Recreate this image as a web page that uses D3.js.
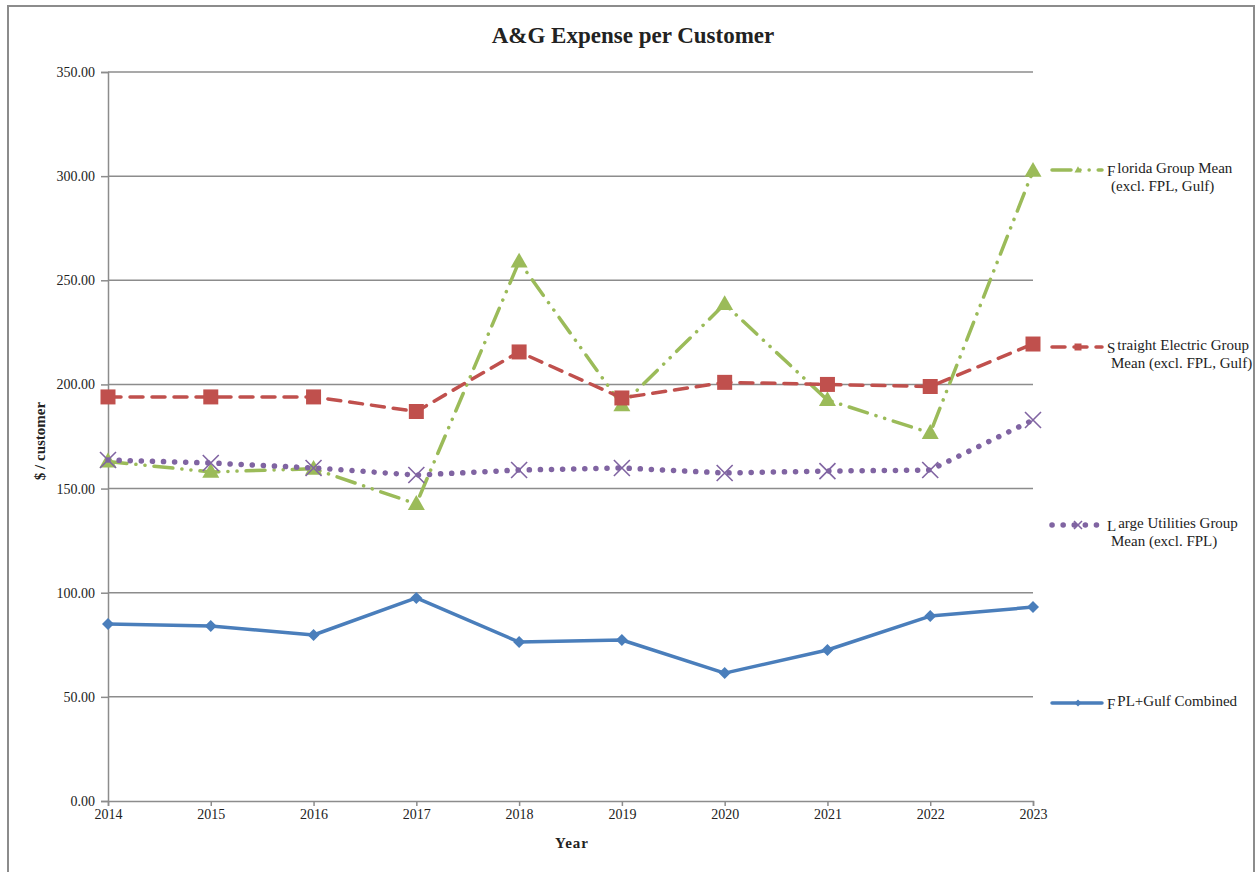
<!DOCTYPE html>
<html><head><meta charset="utf-8">
<script src="https://cdn.jsdelivr.net/npm/d3@7"></script>
<style>body{margin:0;background:#fff}svg{display:block}text{font-family:"Liberation Serif","Times New Roman",serif;fill:#222}</style>
</head><body>
<svg id="c" width="1257" height="872"></svg>
<script>
const years = [2014,2015,2016,2017,2018,2019,2020,2021,2022,2023];
const floridaMean = [163,158,159.5,142.6,259,190,238.6,192.5,176.7,302.5];
const straightElectric = [194,194,194,187,215.6,193.5,201,200,199,219.4];
const largeUtilities = [163.7,162.3,159.9,156.5,158.9,159.9,157.5,158.4,158.9,182.9];
const fplGulf = [85,84,79.7,97.5,76.3,77.3,61.4,72.5,88.8,93.1];
const yTicks = [0,50,100,150,200,250,300,350];

const svg = d3.select("#c");
svg.append("path").attr("d","M8,872 L8,6 L1254,6 L1254,872").attr("fill","none").attr("stroke","#8c8c8c").attr("stroke-width",2);

const x = d3.scaleLinear().domain([2014,2023]).range([108,1033]);
const y = d3.scaleLinear().domain([0,350]).range([801,72]);

svg.append("g").selectAll("line").data(yTicks.filter(d=>d>0)).join("line")
  .attr("x1",108).attr("x2",1033).attr("y1",d=>y(d)).attr("y2",d=>y(d))
  .attr("stroke","#8c8c8c").attr("stroke-width",1.5);

const yAxis = svg.append("g").attr("transform","translate(108,0)").attr("font-family",null)
  .call(d3.axisLeft(y).tickValues(yTicks).tickFormat(d3.format(".2f")).tickSize(7).tickPadding(6));
yAxis.attr("font-family","Liberation Serif").attr("font-size",14);
yAxis.select(".domain").attr("stroke","#8c8c8c").attr("stroke-width",1.5);
yAxis.selectAll(".tick line").attr("stroke","#8c8c8c").attr("stroke-width",1.5);
yAxis.selectAll("text").style("font-size","14px").attr("fill","#222");

const xAxis = svg.append("g").attr("transform","translate(0,801)")
  .call(d3.axisBottom(x).tickValues(years).tickFormat(d3.format("d")).tickSize(5).tickPadding(3));
xAxis.attr("font-family","Liberation Serif").attr("font-size",14);
xAxis.select(".domain").attr("stroke","#8c8c8c").attr("stroke-width",1.5);
xAxis.selectAll(".tick line").attr("stroke","#8c8c8c").attr("stroke-width",1.5);
xAxis.selectAll("text").style("font-size","14px").attr("fill","#222");

svg.append("text").attr("x",633).attr("y",43).attr("text-anchor","middle")
  .style("font-size","23px").style("font-weight","bold").text("A&G Expense per Customer");
svg.append("text").attr("x",572).attr("y",848).attr("text-anchor","middle")
  .style("font-size","15px").style("font-weight","bold").style("letter-spacing","1px").text("Year");
svg.append("text").attr("transform","translate(45,441) rotate(-90)").attr("text-anchor","middle")
  .style("font-size","15px").style("font-weight","bold").text("$ / customer");

const C = {green:"#9bbb59", red:"#c0504d", purple:"#8064a2", blue:"#4a7ebb"};
const line = d3.line().x((d,i)=>x(years[i])).y(d=>y(d));

function markerPath(type, s){
  if(type==="tri"){const h=s*0.87;return `M0,${-h*0.6}L${s/2},${h*0.4}L${-s/2},${h*0.4}Z`;}
  if(type==="sq"){return `M${-s/2},${-s/2}h${s}v${s}h${-s}Z`;}
  if(type==="dia"){return `M0,${-s/2}L${s/2},0L0,${s/2}L${-s/2},0Z`;}
  if(type==="x"){return `M${-s/2},${-s/2}L${s/2},${s/2}M${s/2},${-s/2}L${-s/2},${s/2}`;}
}
function drawMarkers(g, vals, type, color, s){
  g.selectAll("path.m").data(vals).join("path").attr("class","m")
    .attr("transform",(d,i)=>`translate(${x(years[i])},${y(d)})`)
    .attr("d",markerPath(type,s))
    .attr("fill", type==="x"?"none":color)
    .attr("stroke", color).attr("stroke-width", type==="x"?1.6:0);
}

const series = [
  {vals:floridaMean, color:C.green, dash:"19,9,0.1,9,0.1,9", w:3.5, cap:"round", mk:"tri", ms:17,
   lab:[["F","lorida Group Mean"],"(excl. FPL, Gulf)"], ly:170},
  {vals:straightElectric, color:C.red, dash:"13,9", w:3.5, cap:"round", mk:"sq", ms:15,
   lab:[["S","traight Electric Group"],"Mean (excl. FPL, Gulf)"], ly:347},
  {vals:largeUtilities, color:C.purple, dash:"0.1,11", w:5.5, cap:"round", mk:"x", ms:16,
   lab:[["L","arge Utilities Group"],"Mean (excl. FPL)"], ly:525},
  {vals:fplGulf, color:C.blue, dash:null, w:3.5, cap:"round", mk:"dia", ms:12,
   lab:[["F","PL+Gulf Combined"]], ly:703}
];

series.forEach(s=>{
  const g = svg.append("g");
  const p = g.append("path").datum(s.vals).attr("d",line).attr("fill","none")
    .attr("stroke",s.color).attr("stroke-width",s.w).attr("stroke-linecap",s.cap).attr("stroke-linejoin","round");
  if(s.dash) p.attr("stroke-dasharray",s.dash);
  drawMarkers(g, s.vals, s.mk, s.color, s.ms);
});

series.forEach(s=>{
  const g = svg.append("g");
  const lp = g.append("line").attr("x1",1052).attr("x2",1102).attr("y1",s.ly).attr("y2",s.ly)
    .attr("stroke",s.color).attr("stroke-width",s.w).attr("stroke-linecap",s.cap);
  if(s.dash) lp.attr("stroke-dasharray",s.dash);
  g.append("path").attr("transform",`translate(1078,${s.ly})`).attr("d",markerPath(s.mk,s.mk==="x"?8:7))
    .attr("fill",s.mk==="x"?"none":s.color).attr("stroke",s.color).attr("stroke-width",s.mk==="x"?1.6:0);
  const t = g.append("text").attr("x",1107).attr("y",s.ly+3).style("font-size","15px");
  t.append("tspan").attr("dy",3).text(s.lab[0][0]);
  t.append("tspan").attr("dx",2).attr("dy",-3).text(s.lab[0][1]);
  if(s.lab[1]) g.append("text").attr("x",1111).attr("y",s.ly+21).style("font-size","15px").text(s.lab[1]);
});
</script>
</body></html>
